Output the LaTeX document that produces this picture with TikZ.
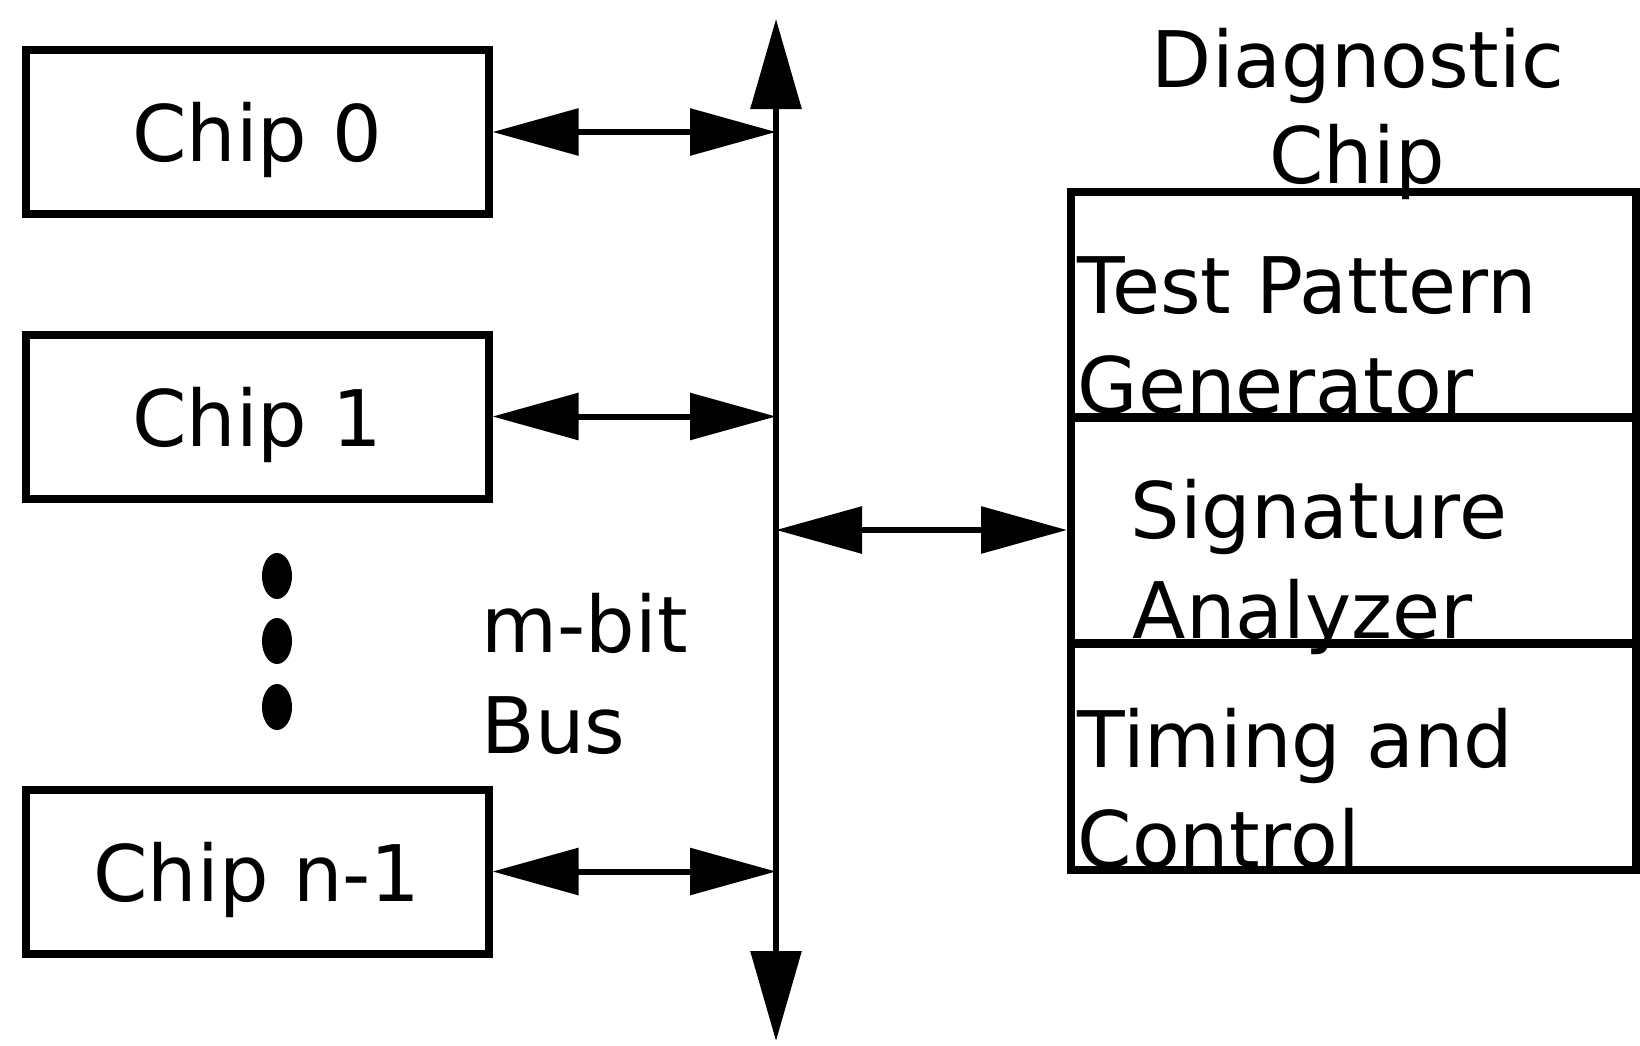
\documentclass[tikz,border=0pt]{standalone}
\usepackage{fontspec}
\setmainfont{DejaVu Sans}
\usetikzlibrary{arrows.meta}
\tikzset{
    chipbox/.style={draw=black, line width=0.08cm, minimum width=4.63cm, minimum height=1.64cm, inner sep=0pt, text depth=0pt},
    diagpart/.style={draw=black, line width=0.08cm, minimum width=5.65cm, minimum height=2.26cm, inner sep=0pt},
    link/.style={line width=0.06cm, {Triangle[length=0.86cm, width=0.46cm]}-{Triangle[length=0.86cm, width=0.46cm]}},
    buslink/.style={line width=0.06cm, {Triangle[length=0.9cm, width=0.5cm]}-{Triangle[length=0.9cm, width=0.5cm]}},
    lab/.style={inner sep=0pt, anchor=base west},
}

\begin{document}
\begin{tikzpicture}[font=\fontsize{22.2pt}{26pt}\selectfont]
    \newcommand\posChip{2.57}
    \newcommand\posBus{7.76}
    \newcommand\posDiag{13.535}

    \useasboundingbox (0,0) rectangle (16.4,-10.45);

    \node[chipbox] (chip0) at (\posChip, -1.32){Chip 0};
    \node[chipbox] (chip1) at (\posChip, -4.165){Chip 1};
    \node[chipbox] (chipn) at (\posChip, -8.715){Chip n-1};

    \fill (2.77, -5.76) ellipse (0.15 and 0.23);
    \fill (2.77, -6.41) ellipse (0.15 and 0.23);
    \fill (2.77, -7.07) ellipse (0.15 and 0.23);

    \node[lab] (mbit) at (4.81, -6.52){m-bit};
    \node[lab] (buslab) at (4.81, -7.53){Bus};

    \coordinate (bustop) at (\posBus, -0.19);
    \coordinate (busbot) at (\posBus, -10.41);
    \draw[buslink] (busbot) -- (bustop);

    \node[diagpart] (tpg) at (\posDiag, -3.045){};
    \node[diagpart] (sa) at (\posDiag, -5.30){};
    \node[diagpart] (tc) at (\posDiag, -7.57){};

    \node[anchor=base, inner sep=0pt] (diag1) at (13.58, -0.87){Diagnostic};
    \node[anchor=base, inner sep=0pt] (diag2) at (13.57, -1.83){Chip};

    \node[lab] (tpg1) at (10.77, -3.13){Test Pattern};
    \node[lab] (tpg2) at (10.77, -4.13){Generator};
    \node[lab] (sa1) at (11.30, -5.38){Signature};
    \node[lab] (sa2) at (11.32, -6.38){Analyzer};
    \node[lab] (tc1) at (10.77, -7.67){Timing and};
    \node[lab] (tc2) at (10.77, -8.67){Control};

    \draw[link] (chip0.east) -- (chip0.east -| bustop);
    \draw[link] (chip1.east) -- (chip1.east -| bustop);
    \draw[link] (chipn.east) -- (chipn.east -| bustop);
    \draw[link] (sa.west -| bustop) -- (sa.west);
\end{tikzpicture}
\end{document}
